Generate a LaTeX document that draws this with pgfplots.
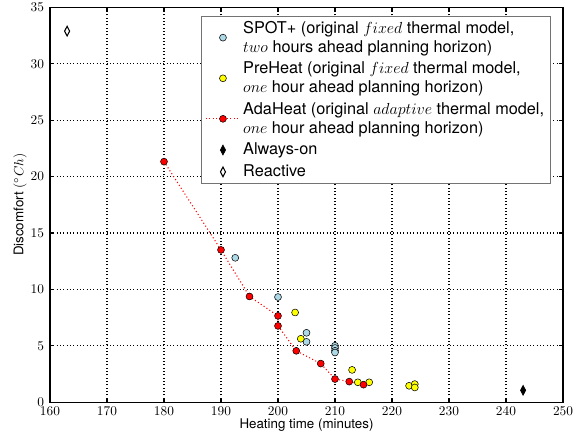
\documentclass[border=0pt]{standalone}
\usepackage{pgfplots}
\pgfplotsset{compat=1.18}
\usetikzlibrary{calc}
\usepackage{fontspec}
\setmainfont{TeX Gyre Heros}
\definecolor{spotblue}{RGB}{173,216,230}
\definecolor{preyellow}{RGB}{255,255,0}
\definecolor{adared}{RGB}{255,0,0}

\begin{document}
\begin{tikzpicture}
\begin{axis}[
  scale only axis,
  width=384.75pt, height=296pt,
  xmin=160, xmax=250,
  ymin=0, ymax=35,
  xtick={160,170,...,250},
  ytick={0,5,...,35},
  tick align=inside,
  major tick length=3pt,
  major tick style={line width=0.8pt, black},
  axis line style={line width=0.8pt},
  xmajorgrids=true, ymajorgrids=true,
  major grid style={draw=black, line width=0.8pt, dash pattern=on 0.8pt off 1.7pt},
  tick label style={font=\fontsize{10}{12}\selectfont},
  yticklabel style={xshift=-1pt},
  label style={font=\fontsize{10}{12}\selectfont},
  xlabel={Heating time (minutes)},
  ylabel={Discomfort $({}^{\circ}Ch)$},
  xlabel style={yshift=4pt},
  ylabel style={yshift=-4pt},
  legend image code/.code={\draw[mark repeat=2,mark phase=2,#1] plot coordinates {(0cm,0cm) (0.45cm,0cm) (0.9cm,0cm)};},
  legend cell align=left,
  legend style={
    at={(0.977,0.978)}, anchor=north east,
    draw=black!55, line width=0.6pt,
    font=\fontsize{12.2}{14}\selectfont,
    cells={align=left},
    row sep=2pt,
    inner xsep=3pt, inner ysep=1.5pt,
    /tikz/every even column/.append style={column sep=10pt},
  },
]
\addplot[only marks, mark=*, mark size=2.6pt,
  mark options={fill=spotblue, draw=black, line width=0.4pt}]
  coordinates {
  (192.5,12.8) (200,9.32) (205,6.15) (205,5.35)
  (210,5.0) (210,4.8) (210,4.55) (210,4.4)
};
\addlegendentry{SPOT+ (original $fixed$ thermal model,\\$two$ hours ahead planning horizon)}

\addplot[only marks, mark=*, mark size=2.6pt,
  mark options={fill=preyellow, draw=black, line width=0.4pt}]
  coordinates {
  (203,7.95) (204,5.62) (213,2.86) (214,1.76) (216,1.76)
  (223,1.45) (224,1.6) (224,1.3)
};
\addlegendentry{PreHeat (original $fixed$ thermal model,\\$one$ hour ahead planning horizon)}

\addplot[adared, line width=0.8pt, dash pattern=on 0.8pt off 1.8pt,
  mark=*, mark size=2.6pt,
  mark options={solid, fill=adared, draw=black, line width=0.4pt}]
  coordinates {
  (180,21.33) (190,13.5) (195,9.37) (200,7.65) (200,6.76)
  (203.2,4.55) (207.5,3.42) (210,2.05) (212.5,1.82) (215,1.55)
};
\addlegendentry{AdaHeat (original $adaptive$ thermal model,\\$one$ hour ahead planning horizon)}

\addplot[only marks, mark=diamond*, mark size=3.6pt,
  mark options={fill=black, draw=black, xscale=0.7, line width=0.6pt}]
  coordinates {(243,1.05)};
\addlegendentry{Always-on}

\addplot[only marks, mark=diamond*, mark size=3.6pt,
  mark options={fill=white, draw=black, xscale=0.7, line width=0.8pt}]
  coordinates {(163,32.9)};
\addlegendentry{Reactive}
\end{axis}
\pgfresetboundingbox
\path ($(current axis.south west)+(-37.5pt,-24.75pt)$) rectangle ($(current axis.north east)+(12.75pt,5.6pt)$);
\end{tikzpicture}
\end{document}
